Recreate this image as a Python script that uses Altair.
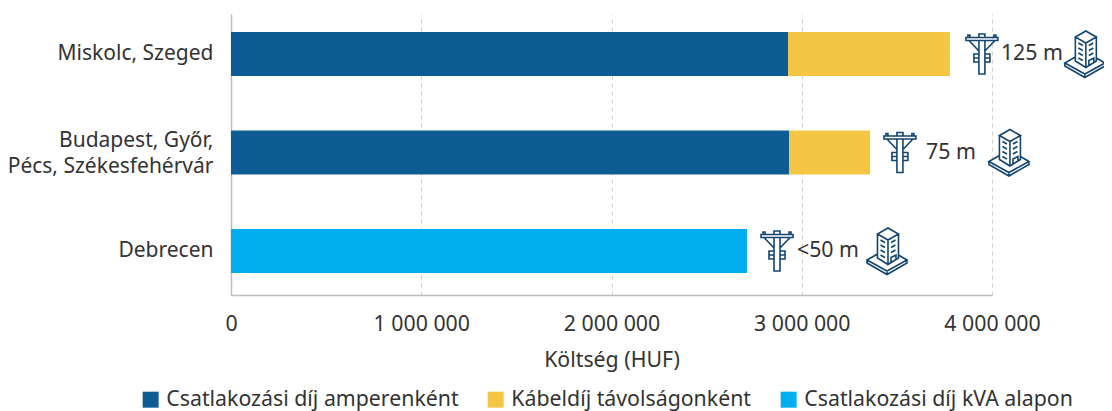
import re
import altair as alt
import pandas as pd

FONT = "Noto Sans"
TEXT = "#333333"
ICON = "#14466F"
GRID = "#D0D0D0"
AXIS = "#BDBDBD"
FS = 21.3

cities = ["Miskolc, Szeged", "Budapest, Győr,|Pécs, Székesfehérvár", "Debrecen"]
series = ["Csatlakozási díj amperenként", "Kábeldíj távolságonként", "Csatlakozási díj kVA alapon"]
colors = ["#0E5C94", "#F5C643", "#00AEEF"]
amper = [2928000, 2933000, 0]
cable = [851000, 426000, 0]
kva = [0, 0, 2712000]

distance_labels = ["125 m", "75 m", "<50 m"]
distance_x = [4047000, 3653000, 2975000]
pole_x = [3947000, 3516000, 2870000]
building_x = [4488000, 4089000, 3448000]

xticks = [0, 1000000, 2000000, 3000000, 4000000]

POLE = (
    "M-16 -16.5H16V-13.5H-16Z M-3 -13.5V20H3V-13.5 M-3 -20H3V-16.5H-3Z "
    "M-14 -16.5V-19H-12V-16.5 M12 -16.5V-19H14V-16.5 "
    "M-13 -13.5L-3 -3 M13 -13.5L3 -3 M-3 0H-8V8H-3 M3 0H8V8H3 M-8 4H-3 M3 4H8"
)
BUILDING = (
    "M1 -23L-9.5 -17L1 -11L11.5 -17Z M-9.5 -17V7L1 13.5L11.5 7V-17 M1 -11V13.5 "
    "M-9.5 3L-20 9L0 20L20 9L11.5 4 M-20 9V12L0 23.5L20 12V9 M0 20V23.5 "
    "M-6.5 -11L-2 -8.5 M-6.5 -6L-2 -3.5 M-6.5 -1L-2 1.5 M-6.5 4L-2 6.5 "
    "M8.5 -11L4 -8.5 M8.5 -6L4 -3.5 M8.5 -1L4 1.5 "
    "M4 11V6.5L9 4V8.5"
)
SCALE = 24  # icon paths are drawn in -24..24; Vega expects -1..1


def unit_path(p):
    return " ".join(
        t if t.isalpha() else f"{float(t) / SCALE:.4f}"
        for t in re.findall(r"[A-Za-z]|-?\d+\.?\d*", p)
    )


POLE_PATH = unit_path(POLE)
BUILDING_PATH = unit_path(BUILDING)

rows = []
for i, c in enumerate(cities):
    for s, v in zip(series, (amper[i], cable[i], kva[i])):
        if v:
            rows.append({"city": c, "series": s, "value": v, "order": series.index(s)})
bars = pd.DataFrame(rows)
ann = pd.DataFrame({
    "city": cities, "label": distance_labels, "tx": distance_x,
    "px": pole_x, "bx": building_x,
})

xscale = alt.Scale(domain=[0, 4000000], nice=False)
yscale = alt.Scale(domain=cities, paddingInner=0.553, paddingOuter=0.203, align=0.45)

bar_layer = alt.Chart(bars).mark_bar().encode(
    x=alt.X("value:Q", stack="zero", scale=xscale, title="Költség (HUF)",
            axis=alt.Axis(
                values=xticks,
                labelExpr="replace(format(datum.value, ','), /,/g, ' ')",
                grid=True, gridDash=[4, 4], gridColor=GRID,
                domain=True, domainColor=AXIS, domainWidth=1.5, ticks=False,
                labelFontSize=FS, labelFont=FONT, labelColor=TEXT, labelPadding=18,
                labelFlush=False,
                titleFontSize=FS, titleFont=FONT, titleColor=TEXT, titleFontWeight="normal",
                titlePadding=15,
            )),
    y=alt.Y("city:N", scale=yscale, title=None,
            axis=alt.Axis(
                labelExpr="split(datum.label, '|')",
                labelFontSize=21, labelFont=FONT, labelColor=TEXT, labelLimit=300,
                labelPadding=18, labelLineHeight=26,
                labelOffset={"condition": {"test": "indexof(datum.label, '|') >= 0", "value": -12}, "value": 0},
                domain=True, domainColor=AXIS, domainWidth=1.5, ticks=False, grid=False,
            )),
    color=alt.Color("series:N", scale=alt.Scale(domain=series, range=colors), title=None,
                    legend=alt.Legend(
                        orient="none", legendX=-91, legendY=375, direction="horizontal",
                        columns=3, symbolType="square", symbolSize=256, symbolStrokeWidth=0,
                        symbolOffset=0,
                        labelFontSize=FS, labelFont=FONT, labelColor=TEXT, labelLimit=400,
                        columnPadding=26, labelOffset=5,
                    )),
    order=alt.Order("order:Q"),
)

text_layer = alt.Chart(ann).mark_text(
    align="left", baseline="middle", font=FONT, fontSize=FS, color=TEXT
).encode(x=alt.X("tx:Q", scale=xscale), y=alt.Y("city:N", scale=yscale), text="label:N")

pole_layer = alt.Chart(ann).mark_point(
    shape=POLE_PATH, size=2304, filled=False, stroke=ICON, strokeWidth=1.6, opacity=1
).encode(x=alt.X("px:Q", scale=xscale), y=alt.Y("city:N", scale=yscale))

building_layer = alt.Chart(ann).mark_point(
    shape=BUILDING_PATH, size=2304, filled=False, stroke=ICON, strokeWidth=1.6, opacity=1
).encode(x=alt.X("bx:Q", scale=xscale), y=alt.Y("city:N", scale=yscale))

chart = (
    alt.layer(bar_layer, text_layer, pole_layer, building_layer)
    .properties(
        width=761, height=281,
        autosize=alt.AutoSizeParams(type="none"),
        padding={"left": 223, "top": 6, "right": 112, "bottom": 116},
    )
    .configure_view(stroke=None)
)

chart.save("out.html", embed_options={"renderer": "svg", "actions": False})
